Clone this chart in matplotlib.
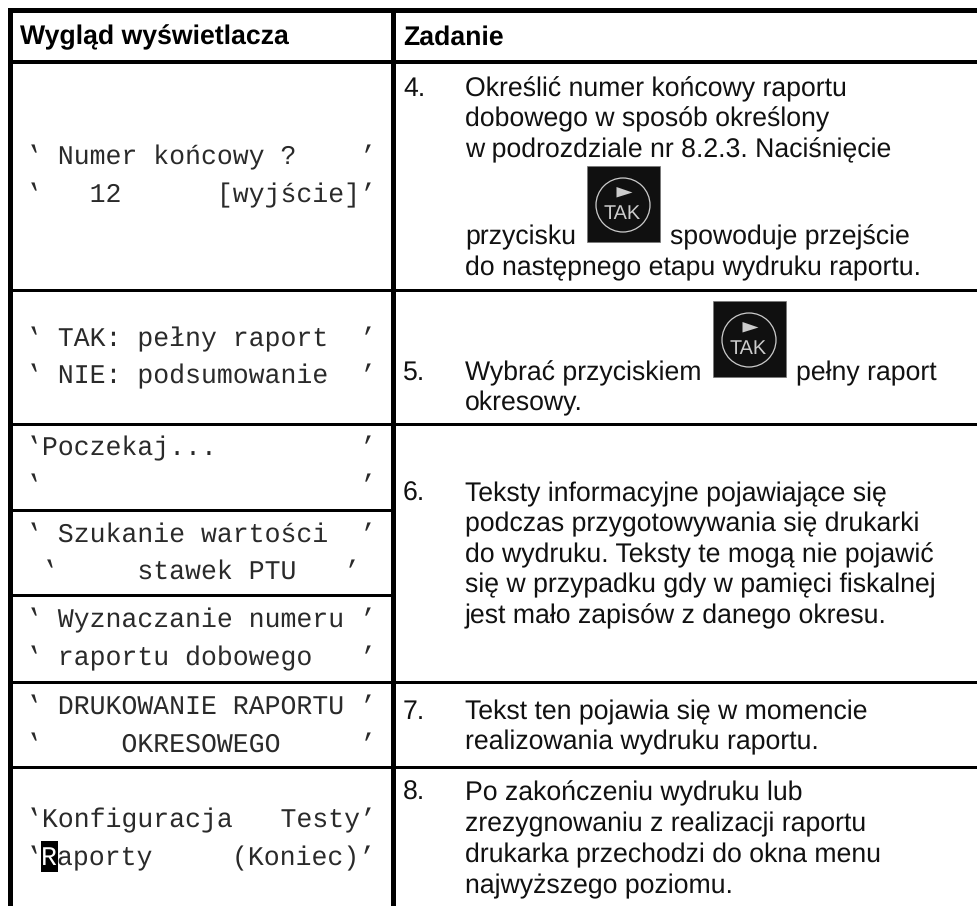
import matplotlib
matplotlib.use('Agg')
import matplotlib.pyplot as plt
from matplotlib.patches import Rectangle, Circle, Polygon

plt.rcParams['text.hinting'] = 'no_hinting'

# texts of the table
naglowki = ['Wygląd wyświetlacza', 'Zadanie']

wyswietlacz = [
    '‛ Numer końcowy ?    ’',
    '‛   12      [wyjście]’',
    '‛ TAK: pełny raport  ’',
    '‛ NIE: podsumowanie  ’',
    '‛Poczekaj...         ’',
    '‛                    ’',
    '‛ Szukanie wartości  ’',
    ' ‛     stawek PTU   ’',
    '‛ Wyznaczanie numeru ’',
    '‛ raportu dobowego   ’',
    '‛ DRUKOWANIE RAPORTU ’',
    '‛     OKRESOWEGO     ’',
    '‛Konfiguracja   Testy’',
]
y_wyswietlacz = [164, 202, 346, 383, 455, 493, 542, 579, 627, 665, 714, 752, 827]

# last line is split, its R is under the cursor
kursor_czesci = ['‛', 'R', 'aporty     (Koniec)’']
y_kursor = 865

numery = ['4.', '5.', '6.', '7.', '8.']
y_numery = [96, 380, 501, 719, 800]

zadania = [
    'Określić numer końcowy raportu',
    'dobowego w sposób określony',
    'w podrozdziale nr 8.2.3. Naciśnięcie',
    'przycisku',
    'do następnego etapu wydruku raportu.',
    'Wybrać przyciskiem',
    'okresowy.',
    'Teksty informacyjne pojawiające się',
    'podczas przygotowywania się drukarki',
    'do wydruku. Teksty te mogą nie pojawić',
    'się w przypadku gdy w pamięci fiskalnej',
    'jest mało zapisów z danego okresu.',
    'Tekst ten pojawia się w momencie',
    'realizowania wydruku raportu.',
    'Po zakończeniu wydruku lub',
    'zrezygnowaniu z realizacji raportu',
    'drukarka przechodzi do okna menu',
    'najwyższego poziomu.',
]
y_zadania = [96, 126.5, 157, 244, 275, 380, 410.5, 501, 531, 562, 592.5, 623, 719, 749.5, 800, 831.5, 862.5, 893]

# text that sits behind the key icons
po_ikonie = ['spowoduje przejście', 'pełny raport']
x_po_ikonie = [670, 796]
y_po_ikonie = [244, 380]
ikony = [(586.5, 166), (712.5, 301)]

# lines of the table: y, thickness, x start, x end
linie_y = [(10.5, 5, 8, 978), (61.5, 4, 8, 978), (290.5, 3, 8, 978), (424.5, 3, 8, 978),
           (510, 3, 8, 393), (595.5, 3, 8, 393), (682, 3, 8, 978), (767.5, 3, 8, 978)]
linie_x = [(10.5, 5, 8, 906), (393.5, 5, 8, 906)]

MONO = ['Liberation Mono', 'DejaVu Sans Mono']
SANS = 'Liberation Sans'
R_MONO = 19.08
R_SANS = 19.2
KOLOR_MONO = '#2a2a2a'
KOLOR = '#111111'

fig = plt.figure(figsize=(9.78, 9.06), dpi=100)
ax = fig.add_axes([0, 0, 1, 1])
ax.set_xlim(0, 978)
ax.set_ylim(906, 0)
ax.axis('off')

for y, grub, x0, x1 in linie_y:
    ax.add_patch(Rectangle((x0, y - grub / 2), x1 - x0, grub, fc='black', ec='none'))
for x, grub, y0, y1 in linie_x:
    ax.add_patch(Rectangle((x - grub / 2, y0), grub, y1 - y0, fc='black', ec='none'))

ax.text(20.5, 44.5, naglowki[0], family=SANS, weight='bold', size=R_SANS, va='baseline', color='black')
ax.text(403, 44.5, naglowki[1], family=SANS, weight='bold', size=R_SANS, va='baseline', color='black')

for linia, y in zip(wyswietlacz, y_wyswietlacz):
    ax.text(25.5, y, linia, family=MONO, size=R_MONO, va='baseline', color=KOLOR_MONO)

# cursor on the R of Raporty
ax.add_patch(Rectangle((41.3, 841), 16.7, 30.7, fc='black', ec='none'))
ax.text(25.5, y_kursor, kursor_czesci[0], family=MONO, size=R_MONO, va='baseline', color=KOLOR_MONO)
ax.text(41.4, y_kursor, kursor_czesci[1], family=MONO, size=R_MONO, va='baseline', color='white')
ax.text(57.3, y_kursor, kursor_czesci[2], family=MONO, size=R_MONO, va='baseline', color=KOLOR_MONO)

for nr, y in zip(numery, y_numery):
    ax.text(403, y, nr, family=SANS, size=R_SANS, va='baseline', color=KOLOR)
for linia, y in zip(zadania, y_zadania):
    ax.text(465, y, linia, family=SANS, size=R_SANS, va='baseline', color=KOLOR)
for linia, x, y in zip(po_ikonie, x_po_ikonie, y_po_ikonie):
    ax.text(x, y, linia, family=SANS, size=R_SANS, va='baseline', color=KOLOR)

# TAK key
for x, y in ikony:
    ax.add_patch(Rectangle((x, y), 73.5, 76, fc='#101010', ec='#777777', lw=0.5))
    ax.add_patch(Circle((x + 36.5, y + 39), 27, fc='none', ec='#cccccc', lw=0.9))
    ax.add_patch(Polygon([(x + 30, y + 21), (x + 30, y + 31.5), (x + 46, y + 26.5)], fc='#cccccc', ec='none'))
    ax.text(x + 36, y + 53, 'TAK', family=SANS, size=14.3, ha='center', va='baseline', color='#cccccc')

fig.savefig('out.png', dpi=100, facecolor='white')
